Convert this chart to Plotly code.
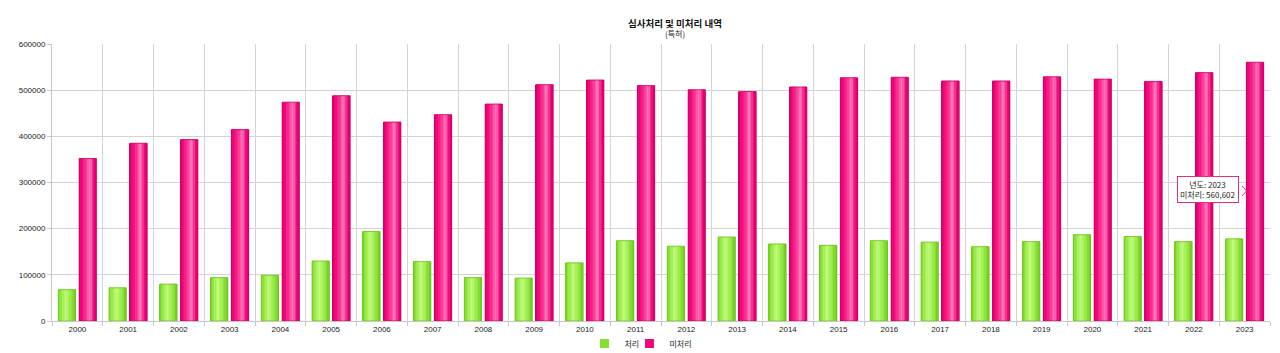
import plotly.graph_objects as go

years = [str(y) for y in range(2000, 2024)]
processed = [68000, 72000, 80000, 94000, 99000, 130000, 194000, 129000, 94000, 93000,
             126000, 174000, 162000, 182000, 167000, 164000, 174000, 171000, 161000,
             172000, 187000, 183000, 172000, 178000]
unprocessed = [352000, 385000, 393000, 415000, 474000, 488000, 431000, 447000, 470000,
               512000, 522000, 510000, 501000, 497000, 507000, 527000, 528000, 520000,
               520000, 529000, 524000, 519000, 538000, 560602]
y_ticks = [0, 100000, 200000, 300000, 400000, 500000, 600000]

FONT = "Liberation Sans, Noto Sans CJK KR, sans-serif"
KFONT = "Noto Sans CJK KR, sans-serif"

L, R, T, B = 52, 10, 44, 32
PW, PH = 1280 - L - R, 353 - T - B


def px(xp):
    return (xp - L) / PW


def py(yp):
    return (353 - B - yp) / PH


def hex2rgb(h):
    h = h.lstrip('#')
    return tuple(int(h[i:i + 2], 16) for i in (0, 2, 4))


def interp(stops, t):
    for (t0, c0), (t1, c1) in zip(stops, stops[1:]):
        if t0 <= t <= t1:
            f = 0 if t1 == t0 else (t - t0) / (t1 - t0)
            a, b = hex2rgb(c0), hex2rgb(c1)
            return 'rgb(%d,%d,%d)' % tuple(round(a[i] + (b[i] - a[i]) * f) for i in range(3))
    return stops[-1][1]


green_stops = [(0, '#7ad628'), (0.15, '#8ee63a'), (0.45, '#c2fa7c'), (0.75, '#96ea46'), (1, '#74cc1e')]
pink_stops = [(0, '#e2006a'), (0.2, '#f40a7c'), (0.45, '#fa3a96'), (0.65, '#ff7cbc'), (0.85, '#f3107e'), (1, '#d8006a')]

series = [
    ("처리", processed, green_stops, -0.375, '#6cc020', '#86e034', 'legend'),
    ("미처리", unprocessed, pink_stops, 0.035, '#c8005e', '#f0077c', 'legend2'),
]
bar_w = 0.34
N = 12

fig = go.Figure()
for name, vals, stops, off, line_c, legend_c, lg in series:
    sw = bar_w / N
    for i in range(N):
        t = (i + 0.5) / N
        fig.add_trace(go.Bar(x=years, y=vals, offset=off + i * sw, width=sw * 1.08,
                             marker=dict(color=interp(stops, t), line=dict(width=0)),
                             legendgroup=name, showlegend=False, hoverinfo='skip'))
    fig.add_trace(go.Bar(x=years, y=vals, name=name, offset=off, width=bar_w,
                         marker=dict(color='rgba(0,0,0,0)', line=dict(width=0.8, color=line_c)),
                         legendgroup=name, showlegend=False,
                         hovertemplate='년도: %{x}<br>' + name + ': %{y:,}<extra></extra>'))

# legend entries (square swatches)
for name, vals, stops, off, line_c, legend_c, lg in series:
    fig.add_trace(go.Scatter(x=[None], y=[None], mode='markers', name=name,
                             marker=dict(symbol='square', size=9, color=legend_c,
                                         line=dict(width=0)),
                             legendgroup=name, showlegend=True, legend=lg))

leg_common = dict(orientation='h', xanchor='left', y=-0.029, yanchor='top',
                  font=dict(family=KFONT, size=8, color='#222222'),
                  itemwidth=30, tracegroupgap=0, bgcolor='rgba(0,0,0,0)')

fig.update_layout(
    width=1280, height=353,
    margin=dict(l=L, r=R, t=T, b=B, autoexpand=False),
    paper_bgcolor='white', plot_bgcolor='white',
    barmode='overlay',
    font=dict(family=FONT, size=8, color='#222222'),
    showlegend=True,
    legend=dict(x=px(604 - 19.5), **leg_common),
    legend2=dict(x=px(649 - 19.5), **leg_common),
    xaxis=dict(type='category', tickson='boundaries', showgrid=True, gridcolor='#d4d4d4',
               gridwidth=1, showline=True, linecolor='#c8c8c8', ticks='outside', ticklen=4,
               tickcolor='#c8c8c8', tickfont=dict(size=8, color='#222222'), mirror=False,
               range=[-0.5, 23.5]),
    yaxis=dict(range=[0, 600000], tickvals=y_ticks, tickformat='d', showgrid=True,
               gridcolor='#d4d4d4', gridwidth=1, showline=True, linecolor='#c8c8c8',
               ticks='outside', ticklen=4, tickcolor='#c8c8c8', zeroline=False,
               tickfont=dict(size=8, color='#222222')),
    hoverlabel=dict(bgcolor='white', bordercolor='#e0207a', font=dict(size=8)),
    annotations=[
        dict(text='<b>심사처리 및 미처리 내역</b>', xref='paper', yref='paper',
             x=px(675), y=1.0, yshift=12, xanchor='center', yanchor='bottom',
             showarrow=False, font=dict(family=KFONT, size=9.5, color='#111111')),
        dict(text='(특허)', xref='paper', yref='paper',
             x=px(675), y=1.0, yshift=3, xanchor='center', yanchor='bottom',
             showarrow=False, font=dict(family=KFONT, size=8, color='#222222')),
        dict(text='년도: 2023<br>미처리: 560,602', xref='paper', yref='paper',
             x=px(1239), y=py(190), xanchor='right', yanchor='middle', align='center',
             showarrow=False, bgcolor='white', bordercolor='#e0307f', borderwidth=1,
             borderpad=2, font=dict(family=KFONT, size=8, color='#222222')),
    ],
    shapes=[
        dict(type='path', xref='paper', yref='paper',
             path='M %f %f L %f %f L %f %f' % (px(1242), py(186), px(1246.5), py(191),
                                               px(1242), py(196)),
             line=dict(color='#e0307f', width=1)),
    ],
)

fig.write_html("out.html")
